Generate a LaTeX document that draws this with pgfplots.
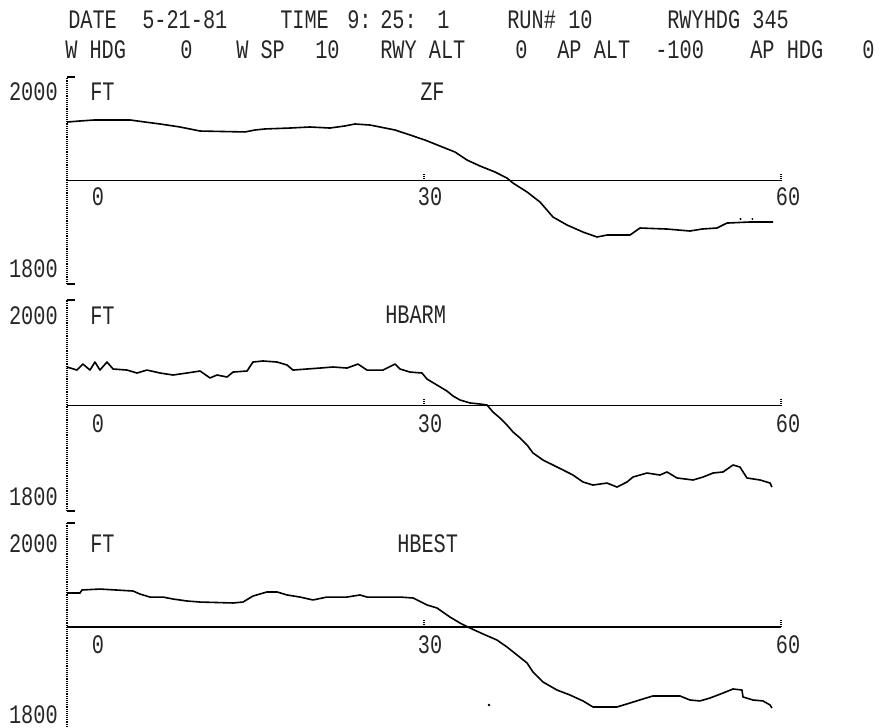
\documentclass[border=0pt]{standalone}
\usepackage{pgfplots}
\pgfplotsset{compat=1.18}
\usepackage{fontspec}
\newfontfamily\dm[FakeStretch=0.76]{Liberation Mono}
\begin{document}
\begin{tikzpicture}
\path[use as bounding box] (0pt,0pt) rectangle (659.25pt,-546pt);
\pgfplotsset{panel/.style={scale only axis, hide axis, clip=false, width=535.5pt,
  xmin=0, xmax=60, ymin=1800, ymax=2000, anchor=south west}}
\tikzset{frame/.style={black, line width=0.8pt, dash pattern=on 0.7pt off 0.7pt},
         brk/.style={black, line width=0.9pt},
         base/.style={black, line width=1.3pt},
         curve/.style={black, line width=1.2pt, line join=round}}
% ---------- panel 1 : ZF
\begin{axis}[panel, height=155.25pt, at={(50.25pt,-213pt)}]
\addplot[frame] coordinates {(0,1800) (0,2000)};
\addplot[brk] coordinates {(0,2000) (0.7,2000)};
\addplot[brk] coordinates {(0,1800) (0.7,1800)};
\addplot[base] coordinates {(0,1900) (60,1900)};
\addplot[frame] coordinates {(30,1900) (30,1907)};
\addplot[frame] coordinates {(60,1900) (60,1907)};
\addplot[curve] coordinates {
(0,1956.5)(1.09,1957.5)(2.35,1958.5)(5.29,1958.5)(6.55,1956.5)(7.82,1954.6)
(9.50,1951.7)(11.18,1947.8)(14.96,1946.9)(15.80,1948.8)(16.64,1949.8)(18.74,1950.7)
(20.42,1951.7)(22.10,1950.7)(23.36,1952.7)(24.20,1954.6)(25.46,1953.6)(26.30,1951.7)
(27.56,1948.8)(28.82,1944.0)(30.08,1939.1)(31.34,1933.3)(32.61,1927.5)(33.61,1919.8)
(34.71,1914.0)(35.97,1908.2)(36.97,1902.4)(37.48,1897.5)(38.66,1888.9)(39.75,1879.2)
(40.84,1864.7)(42.02,1857.0)(43.36,1850.2)(44.54,1845.4)(45.38,1847.3)(47.31,1847.3)
(48.15,1854.1)(50.42,1853.1)(52.35,1851.2)(53.36,1853.1)(54.62,1854.1)(55.46,1858.9)
(57.39,1859.9)(59.33,1859.9)};
\addplot[only marks, mark=*, mark size=0.5pt, black] coordinates {(56.6,1862.8)(57.6,1862.8)};
\end{axis}
% ---------- panel 2 : HBARM
\begin{axis}[panel, height=158.25pt, at={(50.25pt,-383.25pt)}]
\addplot[frame] coordinates {(0,1800) (0,2000)};
\addplot[brk] coordinates {(0,2000) (0.7,2000)};
\addplot[brk] coordinates {(0,1800) (0.7,1800)};
\addplot[base] coordinates {(0,1900) (60,1900)};
\addplot[frame] coordinates {(30,1900) (30,1907)};
\addplot[frame] coordinates {(60,1900) (60,1907)};
\addplot[curve] coordinates {
(0,1936.5)(0.84,1933.6)(1.34,1939.3)(1.93,1933.6)(2.35,1941.2)(2.77,1933.6)
(3.36,1941.2)(3.87,1934.6)(5.04,1933.6)(5.88,1930.8)(6.72,1933.6)(7.82,1930.8)
(8.91,1928.9)(10.08,1930.8)(11.18,1932.7)(12.02,1926.1)(12.61,1928.9)(13.45,1927.0)
(13.95,1931.7)(15.13,1932.7)(15.63,1941.2)(16.47,1942.2)(17.65,1941.2)(18.49,1938.4)
(18.99,1933.6)(20.17,1934.6)(21.26,1935.5)(22.35,1936.5)(23.53,1935.5)(24.45,1939.3)
(25.21,1933.6)(26.55,1933.6)(27.56,1939.3)(27.98,1934.6)(28.82,1931.7)(29.83,1930.8)
(30.25,1925.1)(31.09,1919.4)(31.93,1913.7)(32.44,1909.0)(33.03,1905.2)(33.87,1902.4)
(34.71,1901.4)(35.29,1900.5)(35.80,1893.8)(36.39,1888.1)(36.97,1881.5)(37.48,1874.9)
(38.07,1869.2)(38.66,1862.6)(39.16,1855.0)(40.00,1848.3)(40.84,1843.6)(41.68,1838.9)
(42.52,1834.1)(43.36,1827.5)(44.20,1824.6)(45.38,1826.5)(46.22,1822.7)(47.06,1827.5)
(47.56,1832.2)(48.74,1836.0)(49.83,1834.1)(50.42,1837.0)(51.26,1831.3)(52.61,1829.4)
(53.45,1832.2)(54.29,1836.0)(55.13,1837.0)(55.97,1843.6)(56.55,1841.7)(57.14,1831.3)
(58.24,1829.4)(59.08,1826.5)(59.24,1822.7)};
\end{axis}
% ---------- panel 3 : HBEST
\begin{axis}[panel, height=156pt, at={(50.25pt,-548.25pt)}]
\addplot[frame] coordinates {(0,1802) (0,2000)};
\addplot[brk] coordinates {(0,2000) (0.7,2000)};
\addplot[base] coordinates {(0,1900) (60,1900)};
\addplot[frame] coordinates {(30,1900) (30,1907)};
\addplot[frame] coordinates {(60,1900) (60,1907)};
\addplot[curve] coordinates {
(0,1932.7)(1.09,1932.7)(1.26,1935.6)(2.77,1936.5)(5.55,1934.6)(6.13,1931.7)
(6.97,1928.8)(8.07,1928.8)(8.91,1926.9)(10.08,1925.0)(11.18,1924.0)(13.95,1923.1)
(14.79,1924.0)(15.63,1929.8)(16.81,1933.7)(17.65,1933.7)(18.49,1930.8)(19.58,1928.8)
(20.67,1926.0)(21.85,1928.8)(23.53,1928.8)(24.62,1930.8)(25.21,1928.8)(27.98,1928.8)
(29.08,1927.9)(30.25,1921.2)(31.09,1918.3)(32.18,1909.6)(33.03,1903.8)(33.87,1899.0)
(34.96,1893.3)(36.13,1887.5)(36.97,1880.8)(37.82,1873.1)(38.66,1865.4)(39.16,1856.7)
(40.00,1847.1)(41.18,1839.4)(42.27,1834.6)(43.36,1828.9)(44.20,1823.1)(46.22,1823.1)
(47.31,1826.9)(48.40,1830.8)(49.24,1833.7)(51.51,1833.7)(52.35,1829.8)(53.19,1828.9)
(54.03,1831.7)(55.13,1836.5)(55.97,1840.4)(56.72,1839.4)(56.81,1832.7)(57.65,1829.8)
(58.49,1828.9)(59.08,1825.0)(59.24,1822.1)};
\addplot[only marks, mark=*, mark size=0.7pt, black] coordinates {(35.46,1825.0)};
\end{axis}
% ---------- text (pixel coordinates)
\begin{scope}[x=0.75pt, y=-0.75pt,
  every node/.style={font=\dm\fontsize{20pt}{20pt}\selectfont, inner sep=0pt, black!85}]
% header line 1
\node[anchor=base west] at (68,28) {DATE};
\node[anchor=base west] at (142,28) {5-21-81};
\node[anchor=base west] at (280,28) {TIME};
\node[anchor=base west] at (347,28) {9:};
\node[anchor=base west] at (380,28) {25:};
\node[anchor=base west] at (437,28) {1};
\node[anchor=base west] at (507,28) {RUN\#};
\node[anchor=base west] at (568,28) {10};
\node[anchor=base west] at (667,28) {RWYHDG 345};
% header line 2
\node[anchor=base west] at (65,58) {W HDG};
\node[anchor=base west] at (180,58) {0};
\node[anchor=base west] at (236,58) {W SP};
\node[anchor=base west] at (315,58) {10};
\node[anchor=base west] at (380,58) {RWY ALT};
\node[anchor=base west] at (515,58) {0};
\node[anchor=base west] at (557,58) {AP ALT};
\node[anchor=base west] at (655,58) {-100};
\node[anchor=base west] at (750,58) {AP HDG};
\node[anchor=base west] at (862,58) {0};
% panel 1
\node[anchor=base east] at (58,100) {2000};
\node[anchor=base east] at (58,277) {1800};
\node[anchor=base west] at (90,100) {FT};
\node[anchor=base west] at (420,100) {ZF};
\node[anchor=base] at (98,205) {0};
\node[anchor=base] at (430,205) {30};
\node[anchor=base] at (788,205) {60};
% panel 2
\node[anchor=base east] at (58,324) {2000};
\node[anchor=base east] at (58,505) {1800};
\node[anchor=base west] at (90,324) {FT};
\node[anchor=base west] at (385,323) {HBARM};
\node[anchor=base] at (98,432) {0};
\node[anchor=base] at (430,432) {30};
\node[anchor=base] at (788,432) {60};
% panel 3
\node[anchor=base east] at (58,552) {2000};
\node[anchor=base east] at (58,723) {1800};
\node[anchor=base west] at (90,552) {FT};
\node[anchor=base west] at (397,552) {HBEST};
\node[anchor=base] at (98,653) {0};
\node[anchor=base] at (430,653) {30};
\node[anchor=base] at (788,653) {60};
\end{scope}
\end{tikzpicture}
\end{document}
